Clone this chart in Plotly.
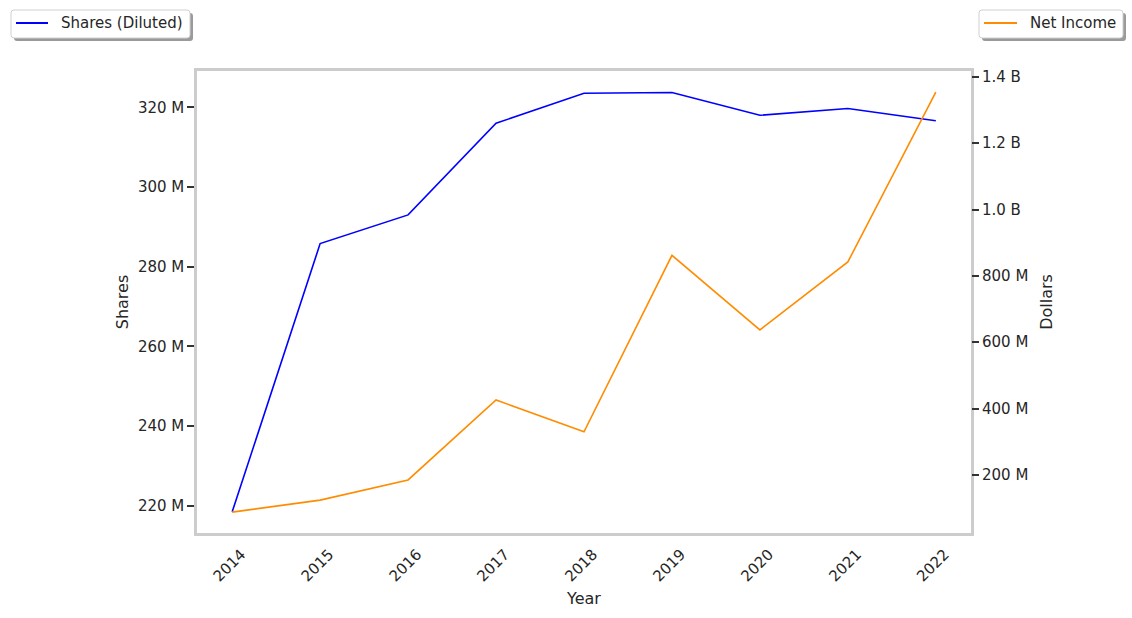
import plotly.graph_objects as go

years = [2014, 2015, 2016, 2017, 2018, 2019, 2020, 2021, 2022]
shares_m = [218.5, 285.8, 293.0, 316.0, 323.5, 323.7, 318.0, 319.7, 316.6]
net_income_m = [88, 124, 185, 426, 330, 862, 637, 842, 1354]

left_tickvals = [220, 240, 260, 280, 300, 320]
left_ticktext = ["220 M", "240 M", "260 M", "280 M", "300 M", "320 M"]
right_tickvals = [200, 400, 600, 800, 1000, 1200, 1400]
right_ticktext = ["200 M", "400 M", "600 M", "800 M", "1.0 B", "1.2 B", "1.4 B"]

FONT = "DejaVu Sans, sans-serif"
TXT = "#262626"
BLUE = "#0000ff"
ORANGE = "#ff8c00"

fig = go.Figure()
fig.add_trace(go.Scatter(x=years, y=shares_m, mode="lines", name="Shares (Diluted)",
                         line=dict(color=BLUE, width=1.6), showlegend=False))
fig.add_trace(go.Scatter(x=years, y=net_income_m, mode="lines", name="Net Income",
                         line=dict(color=ORANGE, width=1.6), yaxis="y2", showlegend=False))

W, H = 1132, 618
L, R, T, B = 197, 971, 71, 533
pw, ph = R - L, B - T


def px(x):
    return (x - L) / pw


def py(y):
    return (B - y) / ph


def rounded_rect(x0, y0, x1, y1, r=3):
    pts = [
        ("M", x0 + r, y0), ("L", x1 - r, y0), ("Q", x1, y0, x1, y0 + r),
        ("L", x1, y1 - r), ("Q", x1, y1, x1 - r, y1), ("L", x0 + r, y1),
        ("Q", x0, y1, x0, y1 - r), ("L", x0, y0 + r), ("Q", x0, y0, x0 + r, y0),
    ]
    s = ""
    for p in pts:
        cmd = p[0]
        coords = p[1:]
        out = []
        for i in range(0, len(coords), 2):
            out.append(f"{px(coords[i]):.5f},{py(coords[i + 1]):.5f}")
        s += cmd + " ".join(out) + " "
    return s + "Z"


shapes = []
annotations = []
legend_boxes = [
    (11, 190, 16, 48, 59, "Shares (Diluted)", BLUE),
    (979, 1123, 984, 1017, 1028, "Net Income", ORANGE),
]
for bx0, bx1, lx0, lx1, tx, label, color in legend_boxes:
    by0, by1 = 10, 38
    shapes.append(dict(type="path", xref="paper", yref="paper",
                       path=rounded_rect(bx0 + 3, by0 + 3, bx1 + 3, by1 + 3),
                       fillcolor="#9a9a9a", line=dict(width=0), layer="above"))
    shapes.append(dict(type="path", xref="paper", yref="paper",
                       path=rounded_rect(bx0, by0, bx1, by1),
                       fillcolor="white", line=dict(color="#d0d0d0", width=1), layer="above"))
    shapes.append(dict(type="line", xref="paper", yref="paper",
                       x0=px(lx0), x1=px(lx1), y0=py(23), y1=py(23),
                       line=dict(color=color, width=2), layer="above"))
    annotations.append(dict(text=label, xref="paper", yref="paper", x=px(tx), y=py(23),
                            xanchor="left", yanchor="middle", showarrow=False,
                            font=dict(size=15, color=TXT, family=FONT)))

fig.update_layout(
    width=W, height=H,
    margin=dict(l=L, r=W - R, t=T, b=H - B),
    paper_bgcolor="white", plot_bgcolor="white",
    font=dict(family=FONT, size=15, color=TXT),
    showlegend=False,
    xaxis=dict(range=[2013.6, 2022.4], tickvals=years, ticktext=[str(y) for y in years],
               tickangle=-45, showgrid=False, zeroline=False, ticks="", automargin=False,
               ticklabelshift=9, ticklabelstandoff=4,
               showline=True, mirror=True, linecolor="#cccccc", linewidth=2.5,
               title=dict(text="Year", font=dict(size=16, color=TXT), standoff=9),
               tickfont=dict(size=15, color=TXT)),
    yaxis=dict(range=[213.2, 329.1], tickvals=left_tickvals, ticktext=left_ticktext,
               showgrid=False, zeroline=False, ticks="outside", ticklen=7, tickwidth=1.5,
               automargin=False,
               tickcolor="#333333", showline=True, mirror=True, linecolor="#cccccc", linewidth=2.5,
               title=dict(text="Shares", font=dict(size=16, color=TXT), standoff=6),
               tickfont=dict(size=15, color=TXT)),
    yaxis2=dict(range=[25, 1417.5], tickvals=right_tickvals, ticktext=right_ticktext,
                overlaying="y", side="right", showgrid=False, zeroline=False,
                ticks="outside", ticklen=7, tickwidth=1.5, tickcolor="#333333",
                showline=False, automargin=False,
                title=dict(text="Dollars", font=dict(size=16, color=TXT), standoff=13),
                tickfont=dict(size=15, color=TXT)),
    shapes=shapes,
    annotations=annotations,
)

fig.write_html("out.html", config={"displayModeBar": False},
               post_script="document.body.style.margin='0px';document.body.style.padding='0px';")
